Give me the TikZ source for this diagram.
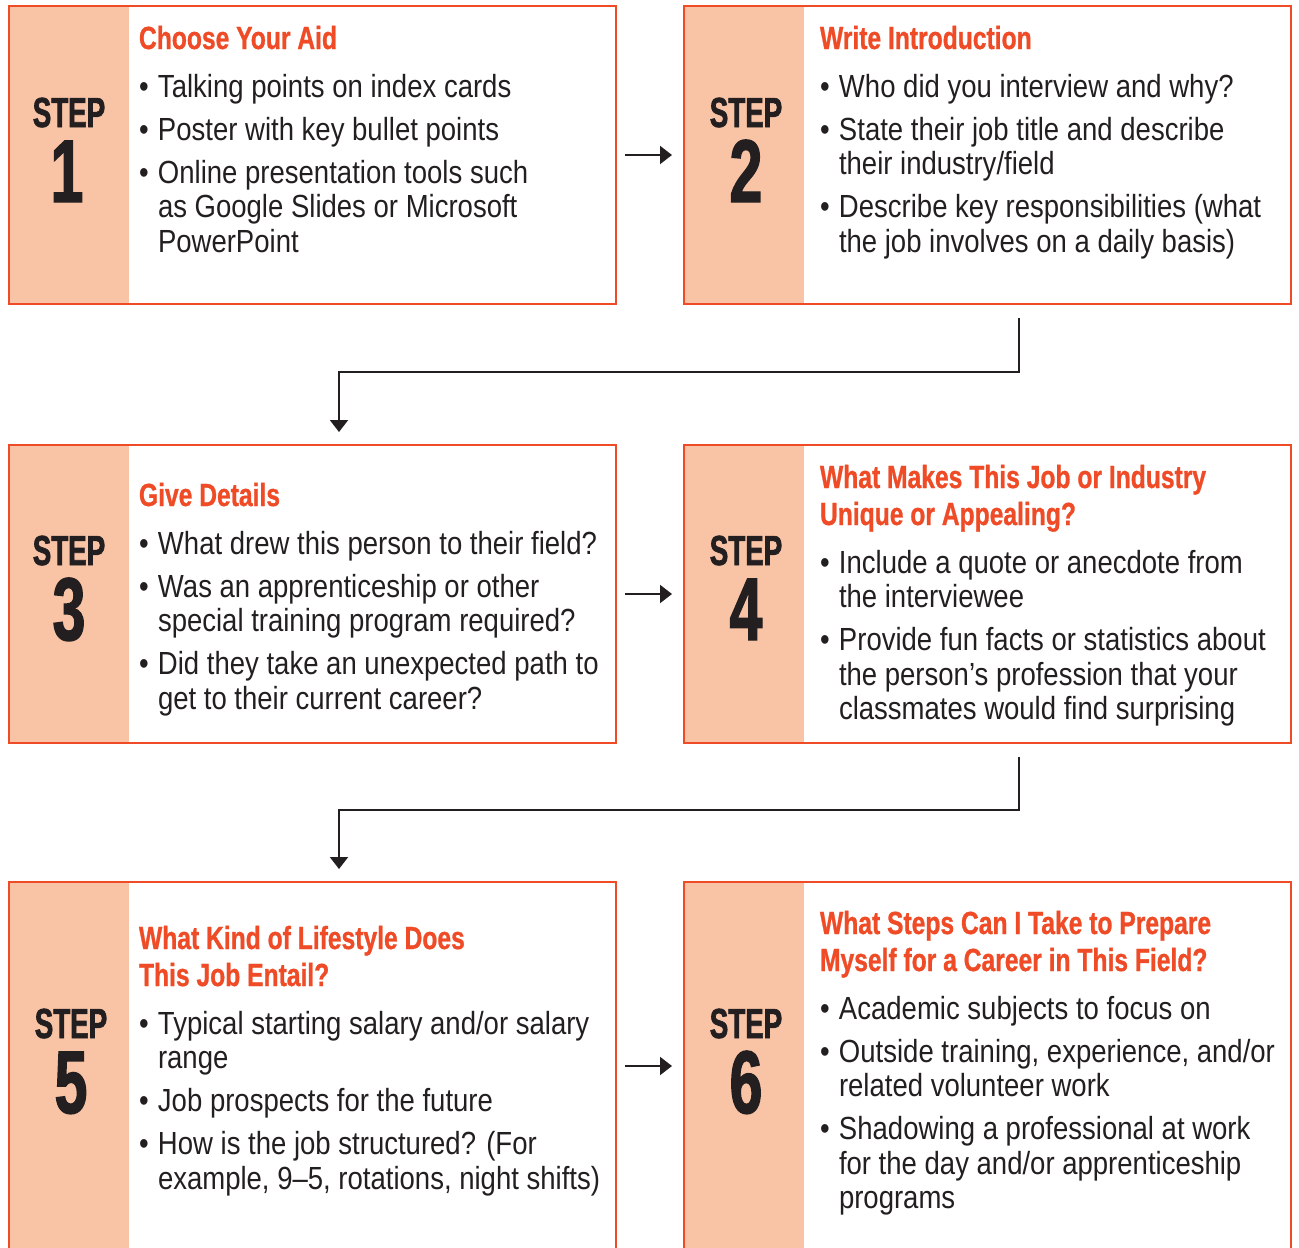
\documentclass[tikz,border=0pt]{standalone}
\usepackage{fontspec}
\setmainfont{Liberation Sans}
\newfontfamily\bodyfont[FakeStretch=0.86]{Liberation Sans}
\newfontfamily\titlefont[FakeStretch=0.77,FakeBold=0.8]{Liberation Sans}
\newfontfamily\stepfont[FakeStretch=0.66,FakeBold=1.6]{Liberation Sans}
\usetikzlibrary{arrows.meta,calc}
\definecolor{brand}{HTML}{EE4B26}
\definecolor{peach}{HTML}{F9C4A6}
\definecolor{ink}{HTML}{231F20}
\newcommand\myfl{\rule{0pt}{30pt}}
\newcommand\mybu{\makebox[19pt][l]{\textbullet}}
\newcommand\myhi{\hspace*{19pt}}
\lineskiplimit=-100pt
\begin{document}
\begin{tikzpicture}[x=1pt,y=-1pt,
  stepbox/.style={draw=brand, line width=2pt, fill=white, inner sep=0pt, outer sep=0pt,
    minimum width=607pt, anchor=north west,
    path picture={\fill[peach] (path picture bounding box.north west) rectangle ([xshift=120pt]path picture bounding box.south west);}},
  txt/.style={anchor=north west, inner sep=0pt, outer sep=0pt, align=left, text=ink,
    font=\bodyfont\fontsize{32}{34.5}\selectfont},
  ttl/.style={anchor=north west, inner sep=0pt, outer sep=0pt, align=left, text=brand,
    font=\titlefont\bfseries\fontsize{32}{37}\selectfont},
  steplbl/.style={anchor=base, inner sep=0pt, text=ink, font=\stepfont\bfseries\fontsize{42}{42}\selectfont},
  stepnum/.style={anchor=base, inner sep=0pt, text=ink, font=\stepfont\bfseries\fontsize{89}{89}\selectfont},
  conn/.style={draw=ink, line width=2pt, -{Triangle[length=12pt,width=18pt]}}
]
\useasboundingbox (0,0) rectangle (1299,1248);
\clip (0,0) rectangle (1299,1248);
\fill[white] (0,0) rectangle (1299,1248);

% boxes
\node[stepbox, minimum height=298pt] (b1) at (9,6) {};
\node[stepbox, minimum height=298pt] (b2) at (684,6) {};
\node[stepbox, minimum height=298pt] (b3) at (9,445) {};
\node[stepbox, minimum height=298pt] (b4) at (684,445) {};
\node[stepbox, minimum height=368pt] (b5) at (9,882) {};
\node[stepbox, minimum height=368pt] (b6) at (684,882) {};

% step labels
\node[steplbl] (s1) at (69,127) {STEP};
\node[stepnum] (n1) at (67,202) {1};
\node[steplbl] (s2) at (746,127) {STEP};
\node[stepnum] (n2) at (746,202) {2};
\node[steplbl] (s3) at (69,565) {STEP};
\node[stepnum] (n3) at (69,640) {3};
\node[steplbl] (s4) at (746,565) {STEP};
\node[stepnum] (n4) at (746,640) {4};
\node[steplbl] (s5) at (71,1038) {STEP};
\node[stepnum] (n5) at (71,1113) {5};
\node[steplbl] (s6) at (746,1038) {STEP};
\node[stepnum] (n6) at (746,1113) {6};

% titles
\node[ttl] (t1) at (139,19) {\myfl Choose Your Aid};
\node[ttl] (t2) at (820,19) {\myfl Write Introduction};
\node[ttl] (t3) at (139,476) {\myfl Give Details};
\node[ttl] (t4) at (820,458) {\myfl What Makes This Job or Industry\\Unique or Appealing?};
\node[ttl] (t5) at (139,919) {\myfl What Kind of Lifestyle Does\\This Job Entail?};
\node[ttl] (t6) at (820,904) {\myfl What Steps Can I Take to Prepare\\Myself for a Career in This Field?};

% bodies
\node[txt] (x1) at (139,67) {\myfl\mybu Talking points on index cards\\[8.5pt]
\mybu Poster with key bullet points\\[8.5pt]
\mybu Online presentation tools such\\
\myhi as Google Slides or Microsoft\\
\myhi PowerPoint};
\node[txt] (x2) at (820,67) {\myfl\mybu Who did you interview and why?\\[8.5pt]
\mybu State their job title and describe\\
\myhi their industry/field\\[8.5pt]
\mybu Describe key responsibilities (what\\
\myhi the job involves on a daily basis)};
\node[txt] (x3) at (139,524) {\myfl\mybu What drew this person to their field?\\[8.5pt]
\mybu Was an apprenticeship or other\\
\myhi special training program required?\\[8.5pt]
\mybu Did they take an unexpected path to\\
\myhi get to their current career?};
\node[txt] (x4) at (820,543) {\myfl\mybu Include a quote or anecdote from\\
\myhi the interviewee\\[8.5pt]
\mybu Provide fun facts or statistics about\\
\myhi the person’s profession that your\\
\myhi classmates would find surprising};
\node[txt] (x5) at (139,1004) {\myfl\mybu Typical starting salary and/or salary\\
\myhi range\\[8.5pt]
\mybu Job prospects for the future\\[8.5pt]
\mybu How is the job structured? (For\\
\myhi example, 9–5, rotations, night shifts)};
\node[txt] (x6) at (820,989) {\myfl\mybu Academic subjects to focus on\\[8.5pt]
\mybu Outside training, experience, and/or\\
\myhi related volunteer work\\[8.5pt]
\mybu Shadowing a professional at work\\
\myhi for the day and/or apprenticeship\\
\myhi programs};

% connectors
\draw[conn] ([xshift=9pt]b1.east) -- ([xshift=-12pt]b2.west);
\draw[conn] ([xshift=9pt]b3.east) -- ([xshift=-12pt]b4.west);
\draw[conn] ([xshift=9pt]b5.east) -- ([xshift=-12pt]b6.west);
\draw[conn] ($(b2.south west)+(335,14)$) -- ++(0,54) -| ($(b3.north west)+(330,-13)$);
\draw[conn] ($(b4.south west)+(335,14)$) -- ++(0,53) -| ($(b5.north west)+(330,-13)$);
\end{tikzpicture}
\end{document}
